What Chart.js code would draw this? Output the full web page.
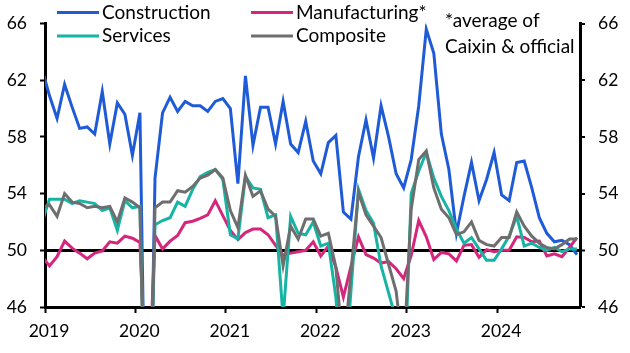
<!DOCTYPE html>
<html>
<head>
<meta charset="utf-8">
<script src="https://cdn.jsdelivr.net/npm/chart.js@4.4.0/dist/chart.umd.min.js"></script>
<style>
  html, body { margin: 0; padding: 0; background: #fff; }
</style>
</head>
<body>
<canvas id="chart" width="630" height="353"></canvas>
<script>
// Monthly series, Dec 2018 .. Nov 2024 (first point sits just left of the axis)
const yearLabels = ['2019', '2020', '2021', '2022', '2023', '2024'];

const construction = [
  62.8,
  60.9, 59.3, 61.7, 60.1, 58.6, 58.7, 58.2, 61.2, 57.5, 60.4, 59.6, 56.7,
  59.7, 26.6, 55.1, 59.7, 60.8, 59.8, 60.5, 60.2, 60.2, 59.8, 60.5, 60.7,
  60.0, 54.7, 62.3, 57.4, 60.1, 60.1, 57.5, 60.5, 57.5, 56.9, 59.1, 56.3,
  55.4, 57.6, 58.1, 52.7, 52.2, 56.6, 59.2, 56.5, 60.2, 58.0, 55.4, 54.4,
  56.4, 60.2, 65.6, 63.9, 58.2, 55.7, 51.2, 53.8, 56.2, 53.5, 55.0, 56.9,
  53.9, 53.5, 56.2, 56.3, 54.4, 52.3, 51.2, 50.6, 50.7, 50.4, 49.7
];

// *average of Caixin & official
const manufacturing = [
  49.55,
  48.9, 49.55, 50.65, 50.15, 49.8, 49.4, 49.8, 49.95, 50.6, 50.5, 51.0, 50.85,
  50.55, 38.0, 51.05, 50.1, 50.65, 51.05, 51.95, 52.05, 52.25, 52.5, 53.5, 52.45,
  51.4, 50.75, 51.25, 51.5, 51.5, 51.1, 50.35, 49.65, 49.8, 49.9, 50.0, 50.6,
  49.6, 50.3, 48.8, 46.7, 48.85, 50.95, 49.7, 49.45, 49.1, 49.2, 48.7, 48.0,
  49.65, 52.1, 50.95, 49.35, 49.85, 49.75, 49.25, 50.35, 50.4, 49.5, 50.05, 49.9,
  50.0, 50.0, 50.95, 50.9, 50.6, 50.65, 49.6, 49.75, 49.55, 50.2, 50.9
];

const services = [
  52.0,
  53.6, 53.6, 53.6, 53.3, 53.5, 53.4, 53.3, 52.8, 53.0, 51.4, 53.5, 53.0,
  53.1, 30.1, 51.8, 52.1, 52.3, 53.4, 53.1, 54.3, 55.2, 55.5, 55.7, 55.0,
  51.1, 50.8, 55.2, 54.4, 54.3, 52.3, 52.5, 45.2, 52.4, 51.2, 51.1, 52.0,
  50.3, 50.5, 46.7, 40.0, 47.1, 54.3, 52.8, 51.9, 48.9, 47.0, 45.1, 39.4,
  54.0, 55.6, 56.9, 55.1, 53.8, 52.8, 51.5, 50.5, 50.9, 50.1, 49.3, 49.3,
  50.1, 51.0, 52.4, 50.3, 50.5, 50.2, 50.0, 50.2, 49.9, 50.1, 50.1
];

const composite = [
  53.0,
  53.2, 52.4, 54.0, 53.4, 53.3, 53.0, 53.1, 53.0, 53.1, 52.0, 53.7, 53.4,
  53.0, 28.9, 53.0, 53.4, 53.4, 54.2, 54.1, 54.5, 55.1, 55.3, 55.7, 55.1,
  52.8, 51.6, 55.3, 53.8, 54.2, 52.9, 52.4, 48.9, 51.7, 50.8, 52.2, 52.2,
  51.0, 51.2, 48.8, 42.7, 48.4, 54.1, 52.5, 51.7, 50.9, 49.0, 47.1, 42.6,
  52.9, 56.4, 57.0, 54.4, 52.9, 52.3, 51.1, 51.3, 52.0, 50.7, 50.4, 50.3,
  50.9, 50.9, 52.7, 51.7, 51.0, 50.5, 50.2, 50.1, 50.4, 50.8, 50.8
];

const FONT = 'Lato, "Open Sans", sans-serif';
Chart.defaults.font.family = FONT;
Chart.defaults.font.size = 17;
Chart.defaults.color = '#000';

// month index: 0 = Jan 2019; points sit a little past the start of each month
function toPoints(arr) {
  return arr.map((v, i) => ({ x: i - 1 + 0.6, y: v }));
}

function lineSet(label, data, color, order) {
  return {
    label: label,
    data: toPoints(data),
    borderColor: color,
    backgroundColor: color,
    borderWidth: 3,
    pointRadius: 0,
    tension: 0,
    clip: 0,
    order: order
  };
}

// legend in two columns plus the footnote, drawn on the canvas
const cornerLegend = {
  id: 'cornerLegend',
  afterDraw(chart) {
    const ctx = chart.ctx;
    const spots = [[57, 12.5], [251, 12.5], [57, 36], [251, 36]];
    ctx.save();
    ctx.font = '19px ' + FONT;
    ctx.textBaseline = 'middle';
    ctx.fillStyle = '#000';
    chart.data.datasets.forEach((ds, i) => {
      const [x, y] = spots[i];
      ctx.strokeStyle = ds.borderColor;
      ctx.lineWidth = 3;
      ctx.beginPath();
      ctx.moveTo(x, y);
      ctx.lineTo(x + 42, y);
      ctx.stroke();
      ctx.fillText(ds.label, x + 45, y);
    });
    ctx.fillText('*average of', 445, 21);
    ctx.fillText('Caixin & official', 445, 46.5);
    ctx.restore();
  }
};

const yTicks = {
  stepSize: 4,
  padding: 13,
  font: { size: 17.5 }
};

new Chart(document.getElementById('chart').getContext('2d'), {
  type: 'line',
  data: {
    datasets: [
      lineSet('Construction', construction, '#1f5bd6', 3),
      lineSet('Manufacturing*', manufacturing, '#d6267c', 2),
      lineSet('Services', services, '#16b4a4', 1),
      lineSet('Composite', composite, '#6e6e6e', 0)
    ]
  },
  options: {
    responsive: false,
    animation: false,
    layout: { padding: { top: 15, left: 0, right: 0, bottom: 0 } },
    plugins: {
      legend: { display: false },
      tooltip: { enabled: false }
    },
    scales: {
      x: {
        type: 'linear',
        min: 0,
        max: 71,
        afterBuildTicks: s => { s.ticks = yearLabels.map((_, i) => ({ value: i * 12 })); },
        afterFit: s => { s.height = 46; },
        ticks: {
          callback: v => yearLabels[Math.round(v / 12)],
          autoSkip: false,
          maxRotation: 0,
          padding: 8,
          labelOffset: 4,
          font: { size: 17.5 }
        },
        grid: { drawOnChartArea: false, drawTicks: true, tickLength: 6, tickColor: '#000', tickWidth: 2 },
        border: { display: true, color: '#000', width: 3 }
      },
      y: {
        position: 'left',
        min: 46,
        max: 66,
        afterFit: s => { s.width = 45; },
        ticks: yTicks,
        grid: { drawOnChartArea: false, drawTicks: true, tickLength: 5, tickColor: '#000', tickWidth: 2 },
        border: { display: true, color: '#000', width: 3 }
      },
      y2: {
        position: 'right',
        min: 46,
        max: 66,
        afterFit: s => { s.width = 50; },
        ticks: yTicks,
        grid: {
          drawOnChartArea: true,
          drawTicks: true,
          tickLength: 5,
          color: c => (c.tick && c.tick.value === 50) ? '#000' : 'rgba(0,0,0,0)',
          lineWidth: c => (c.tick && c.tick.value === 50) ? 3 : 0,
          tickColor: '#000',
          tickWidth: 2
        },
        border: { display: true, color: '#000', width: 3 }
      }
    }
  },
  plugins: [cornerLegend]
});
</script>
</body>
</html>
